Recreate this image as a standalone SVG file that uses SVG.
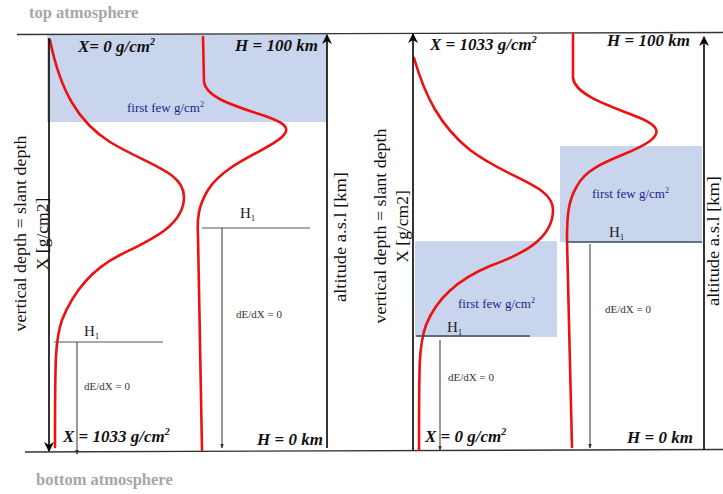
<svg xmlns="http://www.w3.org/2000/svg" width="723" height="494" viewBox="0 0 723 494">
<defs>
<style>
text{font-family:'Liberation Serif','Times New Roman',Times,serif}
.lbl{font-weight:bold;font-style:italic;font-size:17px;fill:#111}
.atm{font-weight:bold;font-size:16.5px;fill:#a6a6a6}
.few{font-size:13px;fill:#1e1e8c}
.h1{font-size:15px;fill:#222}
.de{font-size:11px;fill:#333}
.vt{font-size:17.5px;fill:#111}
.band{fill:#c9d5ec}
.red{fill:none;stroke:#ee1111;stroke-width:2.6;stroke-linecap:round}
.axis{stroke:#000;stroke-width:1.6;fill:none}
.thin{stroke:#333;stroke-width:1;fill:none}
.hl{stroke:#555;stroke-width:1.2}
.hlb{stroke:#3c4660;stroke-width:1.6}
.edge{stroke:#333;stroke-width:1.3}
</style>
<marker id="ah" viewBox="0 0 10 10" refX="9" refY="5" markerWidth="10" markerHeight="10" markerUnits="userSpaceOnUse" orient="auto">
<path d="M0,0 L10,5 L0,10 L3,5 Z" fill="#000"/>
</marker>
<marker id="as" viewBox="0 0 10 10" refX="9" refY="5" markerWidth="5" markerHeight="5" markerUnits="userSpaceOnUse" orient="auto">
<path d="M0,1 L10,5 L0,9 Z" fill="#333"/>
</marker>
</defs>
<rect width="723" height="494" fill="#fff"/>

<g id="bands">
<rect class="band" x="47" y="34" width="280" height="88"/>
<rect class="band" x="560" y="146" width="142" height="96"/>
<rect class="band" x="415" y="241" width="142" height="96"/>
</g>

<g id="atmosphere">
<line class="edge" x1="17" y1="34.5" x2="723" y2="32.5"/>
<line class="edge" x1="25" y1="452" x2="723" y2="449.5"/>
<text class="atm" x="29" y="18">top atmosphere</text>
<text class="atm" x="36" y="485">bottom atmosphere</text>
</g>

<g id="curves">
<path class="red" d="M50,40 C60,90 78,122 110,142 C148,165 184,172 184,197 C184,226 150,240 120,255 C86,272 70,300 62,320 C55,340 55,360 55,447"/>
<path class="red" d="M203,37 L204,82 C206,97 232,105 256,113 C282,121 292,127 283,136 C268,151 226,162 208,190 C198,206 197,220 198,236 L202,450"/>
<path class="red" d="M414,58 C425,96 440,126 470,150 C510,180 553,185 553,210 C553,240 520,255 490,266 C456,280 436,300 426,325 C419,345 419,360 419,450"/>
<path class="red" d="M573,34 L573,78 C575,95 610,106 635,116 C661,126 660,133 650,141 C630,156 590,161 577,186 C568,201 567,216 567,240 L572,447"/>
</g>

<g id="connectors">
<line class="axis" x1="49" y1="38" x2="49" y2="451" marker-end="url(#ah)"/>
<line class="axis" x1="327" y1="448" x2="327" y2="35" marker-end="url(#ah)"/>
<line class="axis" x1="413" y1="450" x2="413" y2="34" marker-end="url(#ah)"/>
<line class="axis" x1="704" y1="450" x2="704" y2="37" marker-end="url(#ah)"/>
<line class="thin" x1="222" y1="228" x2="222" y2="448" marker-end="url(#as)"/>
<line class="thin" x1="77" y1="342" x2="77" y2="454" marker-end="url(#as)"/>
<line class="thin" x1="590" y1="244" x2="590" y2="448" marker-end="url(#as)"/>
<line class="thin" x1="440" y1="340" x2="440" y2="450" marker-end="url(#as)"/>
</g>

<g id="panel-left">
<text class="lbl" x="78" y="52">X= 0 g/cm<tspan font-size="10" dy="-7">2</tspan></text>
<text class="lbl" x="235" y="51">H = 100 km</text>
<text class="lbl" x="63" y="442">X = 1033 g/cm<tspan font-size="10" dy="-7">2</tspan></text>
<text class="lbl" x="257" y="445">H = 0 km</text>
<text class="few" x="127" y="112">first few g/cm<tspan font-size="8" dy="-5">2</tspan></text>
<line class="hl" x1="202" y1="228" x2="310" y2="228"/>
<text class="h1" x="240" y="218">H<tspan font-size="9" dy="3">1</tspan></text>
<text class="de" x="236" y="318">dE/dX = 0</text>
<line class="hl" x1="54" y1="342" x2="163" y2="342"/>
<text class="h1" x="84" y="336">H<tspan font-size="9" dy="3">1</tspan></text>
<text class="de" x="84" y="390">dE/dX = 0</text>
<text class="vt" transform="translate(26,233.5) rotate(-90)" text-anchor="middle" textLength="196" lengthAdjust="spacingAndGlyphs">vertical depth = slant depth</text>
<text class="vt" transform="translate(48,234) rotate(-90)" text-anchor="middle">X [g/cm2]</text>
<text class="vt" transform="translate(346,237) rotate(-90)" text-anchor="middle" textLength="130" lengthAdjust="spacingAndGlyphs">altitude a.s.l [km]</text>
</g>

<g id="panel-right">
<text class="lbl" x="430" y="50">X = 1033 g/cm<tspan font-size="10" dy="-7">2</tspan></text>
<text class="lbl" x="607" y="46">H = 100 km</text>
<text class="lbl" x="425" y="442">X = 0 g/cm<tspan font-size="10" dy="-7">2</tspan></text>
<text class="lbl" x="627" y="443">H = 0 km</text>
<text class="few" x="592" y="198">first few g/cm<tspan font-size="8" dy="-5">2</tspan></text>
<text class="few" x="458" y="308">first few g/cm<tspan font-size="8" dy="-5">2</tspan></text>
<line class="hlb" x1="566" y1="242" x2="702" y2="242"/>
<text class="h1" x="609" y="237">H<tspan font-size="9" dy="3">1</tspan></text>
<text class="de" x="605" y="313">dE/dX = 0</text>
<line class="hlb" x1="416" y1="336" x2="530" y2="336"/>
<text class="h1" x="447" y="332">H<tspan font-size="9" dy="3">1</tspan></text>
<text class="de" x="448" y="381">dE/dX = 0</text>
<text class="vt" transform="translate(386,226) rotate(-90)" text-anchor="middle" textLength="195" lengthAdjust="spacingAndGlyphs">vertical depth = slant depth</text>
<text class="vt" transform="translate(408,226.5) rotate(-90)" text-anchor="middle">X [g/cm2]</text>
<text class="vt" transform="translate(719,241) rotate(-90)" text-anchor="middle" textLength="130" lengthAdjust="spacingAndGlyphs">altitude a.s.l [km]</text>
</g>
</svg>
